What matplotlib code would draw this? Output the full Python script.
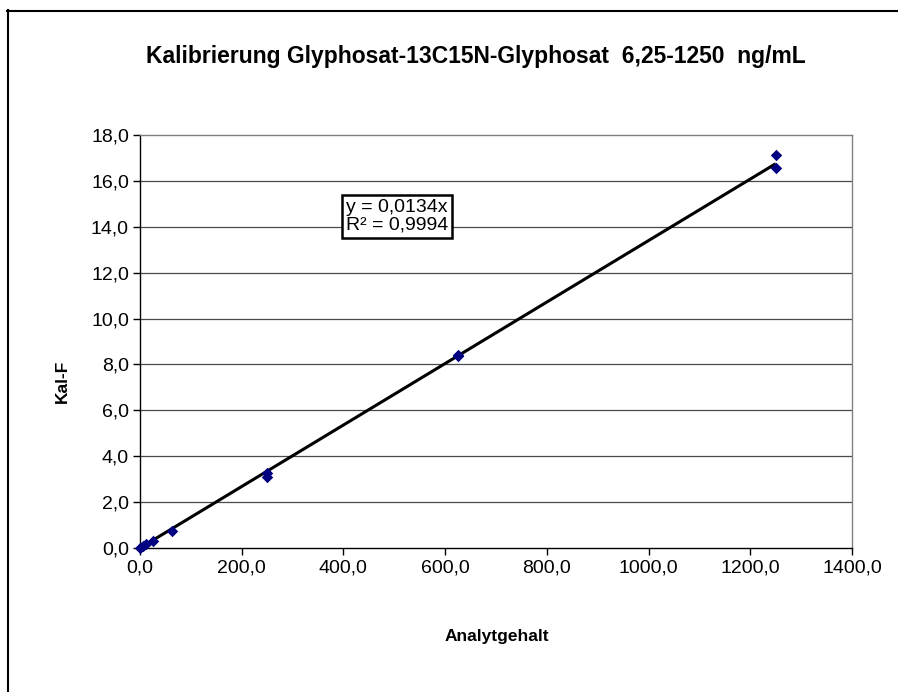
import matplotlib
matplotlib.use("Agg")
import matplotlib.pyplot as plt
from matplotlib.lines import Line2D
import numpy as np

plt.rcParams['font.family'] = ['Liberation Sans', 'DejaVu Sans']

conc = [0, 6.25, 12.5, 25, 62.5, 250, 250, 625, 625, 1250, 1250]
kalf = [0.0, 0.08, 0.17, 0.30, 0.72, 3.08, 3.28, 8.35, 8.42, 16.58, 17.12]
slope = 0.0134
r2 = 0.9994
xticks = [0, 200, 400, 600, 800, 1000, 1200, 1400]
yticks = [0, 2, 4, 6, 8, 10, 12, 14, 16, 18]

W, H = 898, 692
fig = plt.figure(figsize=(W/100, H/100), dpi=100)
ax = fig.add_axes([140/W, 1-548/H, (852-140)/W, (548-135)/H])

ax.set_xlim(0, 1400)
ax.set_ylim(0, 18)
ax.set_xticks(xticks)
ax.set_yticks(yticks)
fmt = lambda v: f"{v:.1f}".replace('.', ',')
ax.set_xticklabels([fmt(v) for v in xticks], fontsize=14)
ax.set_yticklabels([fmt(v) for v in yticks], fontsize=14)
ax.tick_params(direction='out', length=5, width=1, color='black', pad=3)

for y in yticks[1:-1]:
    ax.axhline(y, color='#4a4a4a', lw=0.9, zorder=1)

for s in ['top', 'right']:
    ax.spines[s].set_color('#808080')
    ax.spines[s].set_linewidth(1)
for s in ['left', 'bottom']:
    ax.spines[s].set_color('black')
    ax.spines[s].set_linewidth(1)

xl = np.array([0, max(conc)])
ax.plot(xl, slope*xl, color='black', lw=2.2, zorder=3, solid_capstyle='butt')
ax.scatter(conc, kalf, marker='D', s=34, color='#000080', zorder=4, clip_on=False, linewidths=0)

ax.text(505, 14.45, f"y = {str(slope).replace('.', ',')}x\nR² = {str(r2).replace('.', ',')}",
        fontsize=14, ha='center', va='center', linespacing=1.05,
        bbox=dict(boxstyle='square,pad=0.2', fc='white', ec='black', lw=1.8), zorder=5)

fig.text(476/W, 1-56/H, "Kalibrierung Glyphosat-13C15N-Glyphosat  6,25-1250  ng/mL",
         fontsize=16.5, fontweight='bold', ha='center', va='center')
fig.text(62/W, 1-381/H, "Kal-F", fontsize=12.5, fontweight='bold', rotation=90,
         ha='center', va='center')
fig.text(497/W, 1-636/H, "Analytgehalt", fontsize=12.5, fontweight='bold',
         ha='center', va='center')

fig.add_artist(Line2D([7.5/W, 7.5/W], [1-10/H, 0], color='black', lw=1.5, transform=fig.transFigure))
fig.add_artist(Line2D([7/W, 1], [1-10.5/H, 1-10.5/H], color='black', lw=1.5, transform=fig.transFigure))

fig.savefig('out.png', dpi=100)
